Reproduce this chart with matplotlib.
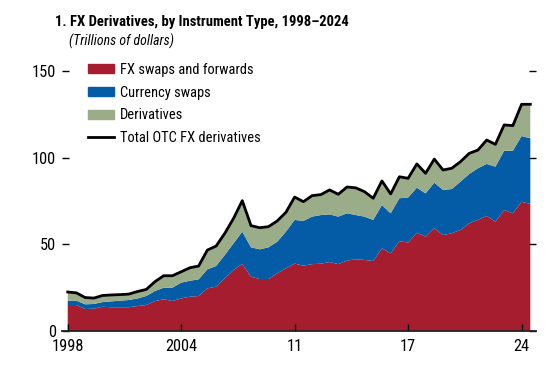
import numpy as np
import matplotlib
matplotlib.use("Agg")
import matplotlib.pyplot as plt
from matplotlib import font_manager
from matplotlib.patches import Patch
from matplotlib.lines import Line2D

# prefer a narrow face if one is installed, the original uses a condensed font
names = {f.name for f in font_manager.fontManager.ttflist}
family = "Roboto"
for cand in ["Liberation Sans Narrow", "Roboto Condensed", "Open Sans Condensed"]:
    if cand in names:
        family = cand
        break
plt.rcParams['font.family'] = [family, 'DejaVu Sans']

# semi-annual observations, end-June 1998 .. end-Dec 2024
fx_swaps_fwd = [15.0, 15.0, 12.7, 12.9, 14.0, 13.7, 13.7, 13.7, 14.4, 15.0,
                17.3, 18.3, 17.3, 18.8, 19.8, 20.2, 24.6, 25.6, 30.4, 35.2,
                38.7, 31.3, 30.0, 30.0, 33.3, 36.2, 38.9, 37.7, 38.6, 38.8,
                39.8, 38.6, 40.6, 41.4, 41.0, 40.4, 47.7, 44.8, 51.9, 51.0,
                56.7, 54.4, 59.3, 55.4, 56.4, 58.3, 62.1, 64.1, 66.4, 63.1,
                69.8, 67.9, 74.6, 73.3]
currency_swaps = [2.5, 2.5, 2.7, 2.7, 2.7, 3.4, 3.8, 4.2, 4.4, 5.2,
                  5.8, 6.7, 7.7, 9.1, 9.2, 9.6, 11.0, 11.9, 13.5, 15.4,
                  18.6, 17.0, 17.1, 18.3, 18.2, 21.1, 25.2, 25.8, 27.4, 28.1,
                  27.5, 27.4, 27.3, 25.5, 25.0, 23.7, 25.0, 23.1, 24.7, 26.0,
                  26.0, 25.0, 26.3, 26.0, 25.5, 27.9, 28.5, 29.8, 30.0, 31.7,
                  34.2, 36.1, 37.9, 37.9]
derivatives = [5.0, 4.5, 3.9, 3.4, 3.8, 3.7, 3.5, 3.4, 4.0, 3.8,
               5.4, 6.9, 6.9, 6.3, 7.5, 7.7, 11.1, 11.5, 12.5, 14.4,
               17.9, 12.5, 12.5, 11.9, 12.0, 11.2, 13.2, 11.1, 12.1, 11.8,
               14.1, 12.9, 15.2, 15.7, 14.4, 12.5, 13.9, 11.2, 12.4, 11.1,
               13.7, 11.6, 13.6, 11.5, 12.0, 11.5, 11.9, 10.5, 13.8, 12.9,
               14.9, 14.5, 18.3, 19.6]
xtick_pos = [0, 13, 26, 39, 52]
xtick_labels = ["1998", "2004", "11", "17", "24"]
yticks = [0, 50, 100, 150]

red = "#A51D2E"
blue = "#045CA6"
green = "#9BAD88"

x = np.arange(len(fx_swaps_fwd))
total = np.array(fx_swaps_fwd) + np.array(currency_swaps) + np.array(derivatives)

fig = plt.figure(figsize=(5.56, 3.75), dpi=100)
renderer = fig.canvas.get_renderer()


def size_for(s, width_px, **kw):
    # font size that gives string s the wanted width in pixels
    t = fig.text(0, 0, s, fontsize=10, **kw)
    w = t.get_window_extent(renderer).width
    t.remove()
    return 10 * width_px / w


tick_fs = size_for("150", 24)
leg_fs = size_for("FX swaps and forwards", 133)
title_fs = size_for("1. FX Derivatives, by Instrument Type, 1998\u20132024", 295,
                    fontweight="bold")
sub_fs = size_for("(Trillions of dollars)", 104, style="italic")

ax = fig.add_axes([0.1108, 0.1173, 0.854, 0.6933])

ax.stackplot(x, fx_swaps_fwd, currency_swaps, derivatives,
             colors=[red, blue, green], linewidth=0)
ax.plot(x, total, color="black", lw=2)

ax.set_xlim(-0.7, 53.7)
ax.set_ylim(0, 150)
ax.set_xticks(xtick_pos)
ax.set_xticklabels(xtick_labels)
ax.set_yticks(yticks)
for s in ["top", "left", "right"]:
    ax.spines[s].set_visible(False)
ax.spines["bottom"].set_linewidth(1.3)
ax.spines["bottom"].set_color("#222222")
ax.tick_params(axis="x", direction="in", length=5, width=1, labelsize=tick_fs, pad=5.5)
ax.tick_params(axis="y", direction="in", length=5, width=1, labelsize=tick_fs,
               pad=4, right=True)

handles = [Patch(color=red), Patch(color=blue), Patch(color=green),
           Line2D([], [], color="black", lw=2)]
labels = ["FX swaps and forwards", "Currency swaps", "Derivatives",
          "Total OTC FX derivatives"]
fig.legend(handles, labels, loc="upper left", bbox_to_anchor=(88 / 556, 1 - 63 / 375),
           frameon=False, fontsize=leg_fs, handlelength=26 / (leg_fs * 1.389),
           handleheight=0.6, handletextpad=0.4, labelspacing=0.6,
           borderpad=0, borderaxespad=0)

fig.text(55 / 556, 1 - 22 / 375, "1. FX Derivatives, by Instrument Type, 1998\u20132024",
         fontsize=title_fs, fontweight="bold", va="center", ha="left")
fig.text(69 / 556, 1 - 41 / 375, "(Trillions of dollars)", fontsize=sub_fs,
         style="italic", va="center", ha="left")

fig.savefig("out.png", dpi=100)
